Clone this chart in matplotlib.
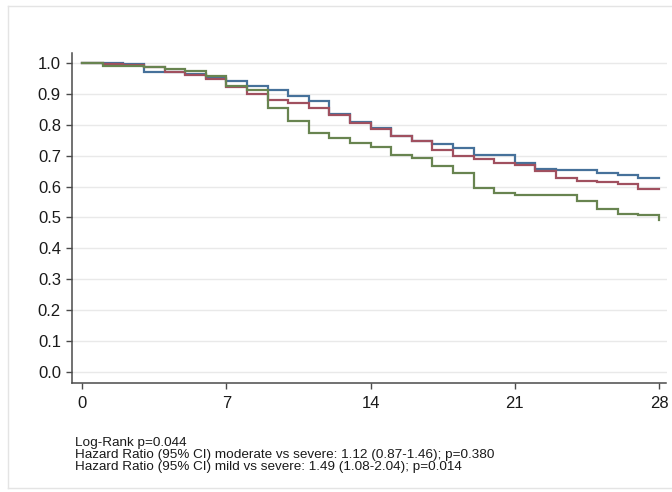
"""Kaplan-Meier style survival curves by severity group, 28-day follow-up."""

import matplotlib
matplotlib.use("Agg")
import matplotlib.pyplot as plt
from matplotlib.lines import Line2D

plt.rcParams["font.family"] = ["Liberation Sans", "DejaVu Sans"]

DAYS = list(range(29))

# survival estimate holding on [day, day+1); last entry repeats the end value
SURV_SEVERE = [1.000, 1.000, 0.997, 0.973, 0.970, 0.964, 0.951, 0.942, 0.926,
               0.913, 0.895, 0.878, 0.834, 0.809, 0.789, 0.765, 0.749, 0.737,
               0.724, 0.703, 0.701, 0.676, 0.656, 0.655, 0.654, 0.644, 0.638,
               0.627, 0.627]
SURV_MODERATE = [1.000, 0.998, 0.994, 0.989, 0.971, 0.962, 0.949, 0.922, 0.900,
                 0.881, 0.870, 0.856, 0.831, 0.806, 0.787, 0.763, 0.747, 0.717,
                 0.698, 0.690, 0.676, 0.670, 0.651, 0.627, 0.617, 0.615, 0.608,
                 0.592, 0.592]
SURV_MILD = [1.000, 0.991, 0.990, 0.986, 0.982, 0.976, 0.960, 0.925, 0.912,
             0.856, 0.813, 0.775, 0.758, 0.741, 0.727, 0.703, 0.694, 0.668,
             0.644, 0.595, 0.579, 0.571, 0.571, 0.571, 0.552, 0.528, 0.511,
             0.509, 0.493]

SERIES = [
    (SURV_SEVERE, "#46719a"),
    (SURV_MODERATE, "#a0505f"),
    (SURV_MILD, "#688450"),
]

X_TICKS = [0, 7, 14, 21, 28]
Y_TICKS = [0.0, 0.1, 0.2, 0.3, 0.4, 0.5, 0.6, 0.7, 0.8, 0.9, 1.0]

FOOTER = [
    "Log-Rank p=0.044",
    "Hazard Ratio (95% CI) moderate vs severe: 1.12 (0.87-1.46); p=0.380",
    "Hazard Ratio (95% CI) mild vs severe: 1.49 (1.08-2.04); p=0.014",
]

W, H = 672, 492
fig = plt.figure(figsize=(W / 100, H / 100), dpi=100)

# faint graph-region outline
edge = "#e4e4e4"
for xs, ys in [((8, W), (6, 6)), ((8, 8), (6, 488)), ((8, W), (488, 488))]:
    fig.add_artist(Line2D([x / W for x in xs], [1 - y / H for y in ys],
                          color=edge, lw=1.0, transform=fig.transFigure))

ax = fig.add_axes([72 / W, 1 - 383 / H, (666.5 - 72) / W, (383 - 53) / H])

for surv, color in SERIES:
    ax.plot(DAYS, surv, drawstyle="steps-post", color=color, lw=1.6,
            solid_joinstyle="miter")

ax.set_xlim(-0.5, 28.36)
ax.set_ylim(-0.037, 1.033)
ax.set_xticks(X_TICKS)
ax.set_yticks(Y_TICKS)
ax.set_yticklabels([f"{v:.1f}" for v in Y_TICKS])

for v in Y_TICKS:
    ax.axhline(v, color="#e9e9e9", lw=1.0, zorder=0)

for side in ("top", "right"):
    ax.spines[side].set_visible(False)
for side in ("left", "bottom"):
    ax.spines[side].set_color("#4a4a4a")
    ax.spines[side].set_linewidth(1.1)

ax.tick_params(axis="both", direction="out", length=4, width=1.0,
               color="#4a4a4a", labelsize=12, labelcolor="#1a1a1a")
ax.tick_params(axis="y", pad=4)
ax.tick_params(axis="x", pad=5)

for i, line in enumerate(FOOTER):
    fig.text(75 / W, 1 - (442.7 + 12 * i) / H, line, fontsize=9.7,
             color="#1a1a1a", va="center", ha="left")

fig.savefig("out.png", dpi=100, facecolor="white")
